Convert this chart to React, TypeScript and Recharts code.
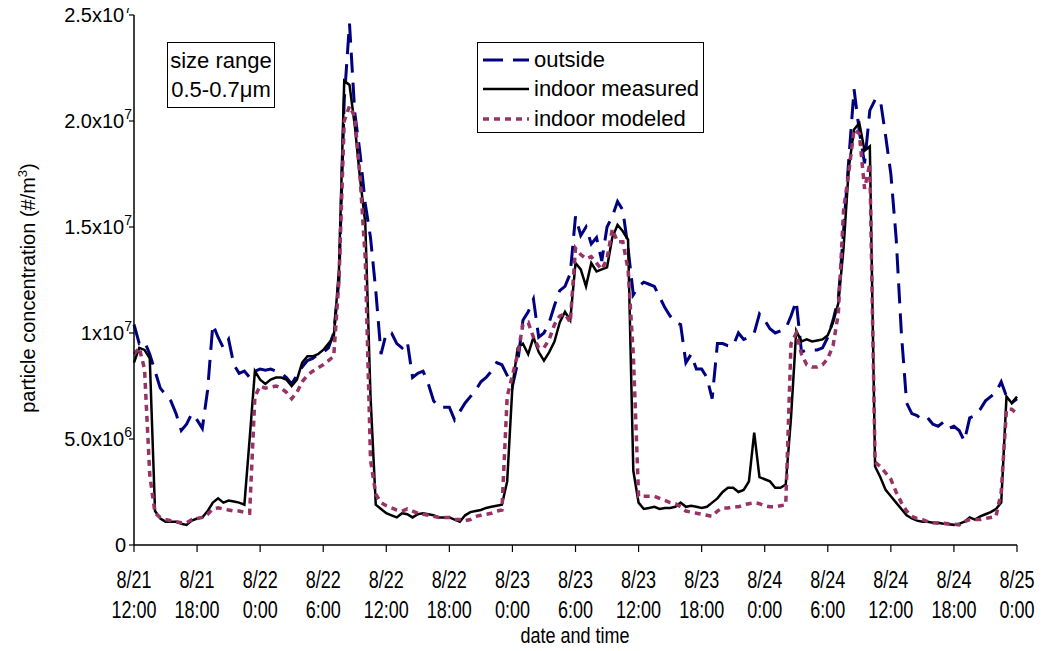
import { LineChart, Line, XAxis, YAxis, Legend } from "recharts";

const FONT = '"Liberation Sans", Arial, Helvetica, sans-serif';

// half-hour steps from 8/21 12:00 (hours since start)
const hours = Array.from({ length: 169 }, (_, i) => i / 2);

// concentrations in units of 1e6 #/m3
const outside = [
  10.4, 9.5, 9.6, 9.0, 8.2, 7.4, 7.1, 6.8, 6.2, 5.4, 5.7, 6.2,
  5.9, 5.5, 7.3, 10.4, 9.8, 9.3, 9.7, 8.5, 8.1, 8.2, 7.9, 8.2,
  8.3, 8.25, 8.3, 8.2, 8.1, 7.9, 7.6, 8.0, 8.4, 8.7, 8.8, 9.0,
  9.1, 9.3, 10.0, 12.5, 21.0, 24.6, 20.4, 18.5, 16.1, 14.5, 12.0, 9.0,
  10.0, 10.0, 9.5, 9.3, 9.6, 7.9, 8.1, 8.2, 7.6, 6.8, 6.5, 6.5,
  6.5, 5.9, 6.3, 6.7, 7.0, 7.3, 7.7, 7.9, 8.2, 8.6, 8.5, 8.0,
  7.5, 8.6, 10.6, 11.0, 11.6, 9.8, 10.0, 10.5, 11.3, 12.0, 12.2, 12.8,
  15.5, 14.6, 15.0, 14.2, 14.5, 13.4, 15.0, 15.5, 16.2, 15.8, 14.0, 11.8,
  12.2, 12.4, 12.3, 12.2, 11.7, 11.2, 10.8, 10.5, 10.4, 8.6, 9.0, 8.3,
  8.3, 7.9, 6.9, 9.5, 9.5, 9.4, 9.4, 10.0, 9.7, 9.8, 10.0, 10.9,
  10.6, 10.2, 10.0, 10.1, 10.2, 10.8, 11.5, 9.1, 9.2, 9.2, 9.2, 9.3,
  9.8, 10.6, 11.6, 14.8, 18.2, 21.5, 19.5, 18.0, 20.5, 21.0, 21.0, 19.3,
  17.5, 14.5, 10.0, 6.7, 6.2, 6.1, 5.9, 6.0, 5.7, 5.6, 5.8, 5.5,
  5.6, 5.4, 4.9, 6.0, 6.1, 6.4, 6.8, 7.0, 7.2, 7.7, 7.0, 6.7,
  6.9,
];

const indoorMeasured = [
  8.6, 9.3, 9.2, 8.8, 1.6, 1.25, 1.1, 1.1, 1.1, 1.0, 0.95, 1.15,
  1.25, 1.3, 1.6, 2.0, 2.2, 2.0, 2.1, 2.05, 2.0, 1.9, 5.0, 8.2,
  7.8, 7.6, 7.8, 7.9, 7.9, 7.8, 7.5, 7.8, 8.6, 8.9, 8.9, 9.0,
  9.2, 9.5, 9.8, 13.0, 21.9, 21.7, 19.8, 17.3, 15.2, 7.0, 1.9, 1.7,
  1.5, 1.4, 1.3, 1.5, 1.45, 1.3, 1.45, 1.5, 1.45, 1.4, 1.3, 1.3,
  1.3, 1.2, 1.1, 1.4, 1.55, 1.6, 1.65, 1.75, 1.8, 1.85, 1.9, 3.0,
  7.5, 9.3, 9.5, 9.0, 9.8, 9.1, 8.7, 9.1, 9.6, 10.5, 11.0, 10.6,
  13.3, 13.0, 12.2, 13.3, 12.9, 13.0, 13.1, 14.5, 15.1, 14.8, 14.4, 3.5,
  2.0, 1.7, 1.75, 1.8, 1.7, 1.75, 1.75, 1.8, 2.0, 1.8, 1.85, 1.8,
  1.75, 1.8, 2.0, 2.2, 2.5, 2.7, 2.7, 2.5, 2.6, 3.0, 5.3, 3.2,
  3.1, 3.0, 2.7, 2.7, 2.85, 6.0, 10.1, 9.6, 9.7, 9.6, 9.65, 9.7,
  9.9, 10.5, 11.4, 14.0, 17.8, 19.6, 19.9, 18.6, 18.8, 3.7, 3.2, 2.6,
  2.3, 2.0, 1.7, 1.4, 1.25, 1.15, 1.1, 1.1, 1.05, 1.05, 1.0, 0.98,
  0.95, 1.0, 1.1, 1.3, 1.2, 1.35, 1.45, 1.55, 1.7, 2.0, 7.0, 6.7,
  7.0,
];

const indoorModeled = [
  9.0, 9.3, 8.3, 3.3, 1.5, 1.3, 1.2, 1.15, 1.1, 1.05, 1.05, 1.2,
  1.25, 1.3, 1.45, 1.7, 1.75, 1.7, 1.65, 1.6, 1.6, 1.55, 1.5, 7.0,
  7.5, 7.4, 7.45, 7.5, 7.4, 7.2, 6.9, 7.2, 7.7, 8.0, 8.2, 8.35,
  8.5, 8.7, 8.9, 12.5, 20.0, 20.7, 20.2, 17.4, 13.5, 4.0, 2.4, 2.0,
  1.85, 1.75, 1.65, 1.6, 1.7, 1.6, 1.5, 1.45, 1.4, 1.35, 1.3, 1.3,
  1.3, 1.2, 1.2, 1.15, 1.2, 1.35, 1.4, 1.45, 1.5, 1.6, 1.65, 7.0,
  8.0, 9.0, 10.4, 10.5, 9.8, 9.3, 9.3, 9.7, 10.4, 10.8, 10.9, 10.5,
  14.0, 13.7, 13.5, 13.6, 13.3, 13.0, 13.5, 14.9, 14.3, 14.3, 13.0, 9.0,
  2.3, 2.3, 2.3, 2.3, 2.2, 2.1, 2.0, 1.95, 1.8, 1.6, 1.55, 1.5,
  1.45, 1.4, 1.35, 1.6, 1.75, 1.75, 1.8, 1.8, 1.9, 1.95, 2.0, 1.95,
  1.85, 1.8, 1.8, 1.85, 1.9, 9.5, 10.0, 9.0, 8.5, 8.4, 8.4, 8.5,
  8.8, 9.4, 10.9, 15.8, 17.6, 19.6, 19.4, 16.8, 18.0, 3.9, 3.7, 3.4,
  3.1, 2.5, 2.0, 1.6, 1.35, 1.25, 1.2, 1.1, 1.05, 1.03, 1.03, 1.0,
  0.98, 0.95, 1.1, 1.2, 1.2, 1.2, 1.25, 1.3, 1.35, 2.5, 6.4, 6.4,
  6.2,
];

const xTicks = [0, 6, 12, 18, 24, 30, 36, 42, 48, 54, 60, 66, 72, 78, 84];
const xDates = ["8/21", "8/21", "8/22", "8/22", "8/22", "8/22", "8/23", "8/23", "8/23", "8/23", "8/24", "8/24", "8/24", "8/24", "8/25"];
const xTimes = ["12:00", "18:00", "0:00", "6:00", "12:00", "18:00", "0:00", "6:00", "12:00", "18:00", "0:00", "6:00", "12:00", "18:00", "0:00"];

const yTicks = [0, 5, 10, 15, 20, 25];
const yBase = ["0", "5.0x10", "1x10", "1.5x10", "2.0x10", "2.5x10"];
const yExp = ["", "6", "7", "7", "7", "7"];

const series = [
  { key: "outside", name: "outside", color: "#000080", width: 3, dash: "20 10" },
  { key: "measured", name: "indoor measured", color: "#000000", width: 2.5, dash: undefined },
  { key: "modeled", name: "indoor modeled", color: "#993366", width: 3.5, dash: "6 5" },
];

const data = hours.map((t, i) => ({
  t,
  outside: outside[i],
  measured: indoorMeasured[i],
  modeled: indoorModeled[i],
}));

const axisLine = { stroke: "#000", strokeWidth: 1.5 };
const tickLine = { stroke: "#000", strokeWidth: 1.2 };

// the x labels in the original are stretched vertically
function Stretched({ x, y, children, size = 18, sy = 1.28 }: any) {
  return (
    <text transform={`translate(${x},${y}) scale(1,${sy})`} textAnchor="middle" fontFamily={FONT} fontSize={size} fill="#000">
      {children}
    </text>
  );
}

function XTick({ x, y, payload }: any) {
  const i = xTicks.indexOf(payload.value);
  return (
    <g>
      <Stretched x={x} y={y + 34}>{xDates[i]}</Stretched>
      <Stretched x={x} y={y + 64}>{xTimes[i]}</Stretched>
    </g>
  );
}

function YTick({ x, y, payload }: any) {
  const i = yTicks.indexOf(payload.value);
  const end = yExp[i] ? x + 9 : x + 3;
  return (
    <text x={end} y={y + 7} textAnchor="end" fontFamily={FONT} fontSize={20} fill="#000">
      {yBase[i]}
      {yExp[i] ? (
        <tspan dy={-9} fontSize={14}>{yExp[i]}</tspan>
      ) : null}
    </text>
  );
}

function LegendBox() {
  return (
    <div
      style={{
        width: 227,
        height: 91,
        boxSizing: "border-box",
        border: "1px solid #000",
        background: "#fff",
        padding: "2px 0 0 5px",
        fontFamily: FONT,
        fontSize: 22,
        color: "#000",
      }}
    >
      {series.map((s) => (
        <div key={s.key} style={{ display: "flex", alignItems: "center", height: 29.5 }}>
          <svg width={46} height={10}>
            <line x1={0} y1={5} x2={46} y2={5} stroke={s.color} strokeWidth={s.width} strokeDasharray={s.dash} />
          </svg>
          <span style={{ marginLeft: 5, lineHeight: 1 }}>{s.name}</span>
        </div>
      ))}
    </div>
  );
}

export default function App() {
  return (
    <div style={{ position: "relative", width: 1036, height: 651, marginTop: -8, background: "#fff" }}>
      <LineChart
        width={1036}
        height={651}
        data={data}
        margin={{ top: 15, right: 27, bottom: 0, left: 0 }}
        style={{ overflow: "visible" }}
      >
        <XAxis
          dataKey="t"
          type="number"
          domain={[0, 84]}
          ticks={xTicks}
          interval={0}
          tick={<XTick />}
          tickSize={7}
          tickMargin={2}
          height={106}
          axisLine={axisLine}
          tickLine={tickLine}
          label={{
            content: () => (
              <Stretched x={567} y={643} sy={1.2}>
                date and time
              </Stretched>
            ),
          }}
        />
        <XAxis xAxisId="top" orientation="top" dataKey="t" type="number" domain={[0, 84]} ticks={xTicks} interval={0} tick={false} tickSize={4} height={0} axisLine={axisLine} tickLine={tickLine} />
        <XAxis xAxisId="topIn" orientation="top" mirror dataKey="t" type="number" domain={[0, 84]} ticks={xTicks} interval={0} tick={false} tickSize={4} height={0} axisLine={false} tickLine={tickLine} />
        <YAxis
          domain={[0, 25]}
          ticks={yTicks}
          interval={0}
          tick={<YTick />}
          tickSize={5}
          tickMargin={6}
          width={126}
          axisLine={axisLine}
          tickLine={tickLine}
          label={{
            content: () => (
              <text transform="translate(27,288) rotate(-90)" textAnchor="middle" fontFamily={FONT} fontSize={20} fill="#000">
                particle concentration (#/m
                <tspan dy={-8} fontSize={13}>3</tspan>
                <tspan dy={8}>)</tspan>
              </text>
            ),
          }}
        />
        <YAxis yAxisId="leftIn" mirror domain={[0, 25]} ticks={yTicks} interval={0} tick={false} tickSize={4} axisLine={false} tickLine={tickLine} />
        <YAxis yAxisId="right" orientation="right" domain={[0, 25]} ticks={yTicks} interval={0} tick={false} tickSize={4} width={0} axisLine={axisLine} tickLine={tickLine} />
        <YAxis yAxisId="rightIn" orientation="right" mirror domain={[0, 25]} ticks={yTicks} interval={0} tick={false} tickSize={4} axisLine={false} tickLine={tickLine} />
        <Legend
          layout="horizontal"
          verticalAlign="middle"
          align="center"
          content={<LegendBox />}
          wrapperStyle={{ left: 469, top: 42, width: 227, height: 91 }}
        />
        {series.map((s) => (
          <Line
            key={s.key}
            dataKey={s.key}
            name={s.name}
            type="linear"
            stroke={s.color}
            strokeWidth={s.width}
            strokeDasharray={s.dash}
            dot={false}
            activeDot={false}
            isAnimationActive={false}
          />
        ))}
      </LineChart>
      <div
        style={{
          position: "absolute",
          left: 159,
          top: 42,
          width: 108,
          height: 66,
          boxSizing: "border-box",
          border: "1px solid #000",
          background: "#fff",
          fontFamily: FONT,
          fontSize: 22,
          lineHeight: "28.5px",
          textAlign: "center",
          paddingTop: 4,
        }}
      >
        <div>size range</div>
        <div>0.5-0.7μm</div>
      </div>
    </div>
  );
}
